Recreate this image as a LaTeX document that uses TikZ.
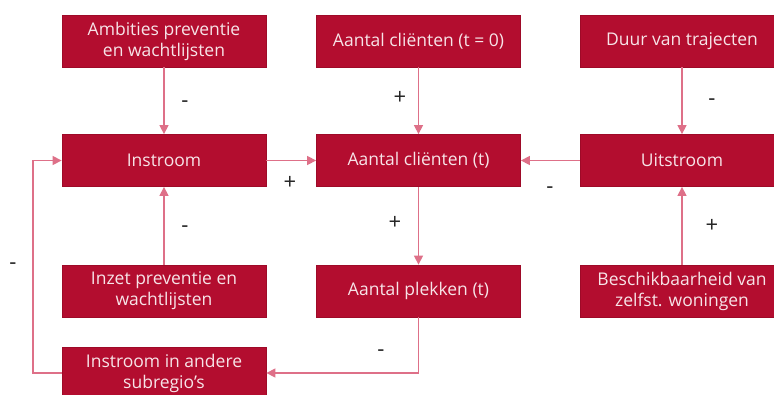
\documentclass[tikz,border=0pt]{standalone}
\usepackage{fontspec}
\setmainfont{Open Sans}
\usetikzlibrary{arrows.meta}
\definecolor{boxred}{HTML}{B30D2F}
\definecolor{boxedge}{HTML}{9E0A28}
\definecolor{linkred}{HTML}{DE7088}
\definecolor{boxtext}{HTML}{F7E4E8}
\begin{document}
\begin{tikzpicture}[x=1pt,y=-1pt,
  factor/.style={draw=boxedge,line width=0.8pt,fill=boxred,text=boxtext,
    minimum width=204pt,minimum height=52pt,inner sep=0pt,align=center,
    font=\fontsize{17.5}{21}\selectfont},
  link/.style={draw=linkred,line width=1.4pt,
    -{Triangle[length=9pt,width=9pt]}},
  sign/.style={font=\fontsize{22}{24}\selectfont,text=black!85,inner sep=0pt}]
\clip (0,0) rectangle (774,394);
\useasboundingbox (0,0) rectangle (774,394);
\fill[white] (0,0) rectangle (774,394);

% factors, three columns
\node[factor] (amb)  at (164,41)  {Ambities preventie\\en wachtlijsten};
\node[factor] (in)   at (164,160.5) {Instroom};
\node[factor] (inz)  at (164,291) {Inzet preventie en\\wachtlijsten};
\node[factor] (insr) at (164,373) {Instroom in andere\\subregio’s};

\node[factor] (c0)   at (418.5,41)  {Aantal cliënten (t = 0)};
\node[factor] (ct)   at (418.5,160.5) {Aantal cliënten (t)};
\node[factor] (pl)   at (418.5,291) {Aantal plekken (t)};

\node[factor] (duur) at (682,41)  {Duur van trajecten};
\node[factor] (uit)  at (682,160.5) {Uitstroom};
\node[factor] (bes)  at (682,291) {Beschikbaarheid van\\zelfst. woningen};

% influences
\draw[link] (amb) -- (in);
\draw[link] (inz) -- (in);
\draw[link] (in) -- (ct);
\draw[link] (c0) -- (ct);
\draw[link] (uit) -- (ct);
\draw[link] (duur) -- (uit);
\draw[link] (bes) -- (uit);
\draw[link] (ct) -- (pl);
\draw[link] (pl.south) |- (insr.east);
\coordinate (loop) at (33,373);
\draw[link] (insr.west) -- (loop) |- (in.west);

% polarities
\node[sign] (s1) at (185,104) {-};
\node[sign] (s2) at (290,183) {+};
\node[sign] (s3) at (400,98) {+};
\node[sign] (s4) at (712,102) {-};
\node[sign] (s5) at (550,190) {-};
\node[sign] (s6) at (395,223) {+};
\node[sign] (s7) at (185,229) {-};
\node[sign] (s8) at (712,226) {+};
\node[sign] (s9) at (13,266) {-};
\node[sign] (s10) at (381,353) {-};
\end{tikzpicture}
\end{document}
